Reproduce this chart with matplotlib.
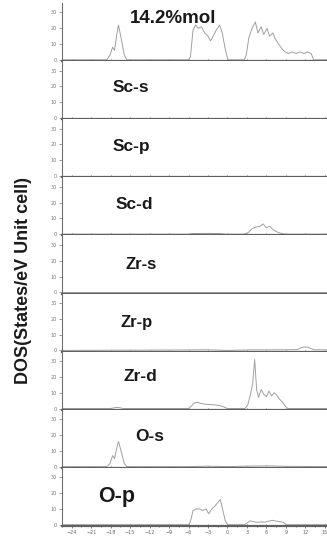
import matplotlib
matplotlib.use("Agg")
import matplotlib.pyplot as plt
import numpy as np

# --- partial DOS data, energies in eV ---
panel_names = ["14.2%mol", "Sc-s", "Sc-p", "Sc-d", "Zr-s", "Zr-p", "Zr-d", "O-s", "O-p"]

tot_E = [-25.5, -18.6, -18.1, -17.7, -17.4, -17.1, -16.8, -16.4, -15.9, -15.5, -6.0, -5.7, -5.3, -4.9,
         -4.5, -4.0, -3.5, -3.0, -2.6, -2.2, -1.7, -1.2, -0.8, -0.3, 0.1, 2.6, 2.9, 3.3, 3.8, 4.3,
         4.7, 5.2, 5.6, 6.1, 6.5, 7.0, 7.4, 7.9, 8.4, 8.9, 9.4, 10.0, 10.6, 11.2, 11.8, 12.4, 12.9,
         13.3, 15.5]
tot_D = [0, 0, 3, 8, 6, 15, 22, 14, 3, 0, 0, 2, 19, 22, 20, 21, 17, 15, 12, 15, 19, 22, 17, 6, 0, 0,
         3, 14, 20, 24, 17, 21, 16, 20, 15, 17, 13, 10, 7, 5, 4, 5, 4, 5, 4, 5, 4, 0, 0]

scs_E = [-25.5, 15.5]
scs_D = [0, 0]

scp_E = [-25.5, 15.5]
scp_D = [0, 0]

scd_E = [-25.5, -6.0, -5.5, -3.0, -1.0, -0.3, 2.5, 3.2, 3.8, 4.4, 5.0, 5.5, 6.0, 6.5, 7.0, 7.6, 8.2,
         9.0, 15.5]
scd_D = [0, 0, 0.4, 0.5, 0.4, 0, 0, 1.0, 3.5, 4.5, 5.0, 6.5, 4.0, 5.0, 3.0, 1.5, 0.6, 0, 0]

zrs_E = [-25.5, 15.5]
zrs_D = [0, 0]

zrp_E = [-25.5, -5.5, -3.0, 0.0, 3.0, 9.0, 10.8, 11.3, 11.8, 12.4, 12.9, 13.3, 15.5]
zrp_D = [0, 0.3, 0.4, 0, 0.3, 0.4, 0.5, 1.6, 2.2, 2.0, 1.2, 0.4, 0.3]

zrd_E = [-25.5, -18.0, -17.0, -16.0, -6.0, -5.6, -5.1, -4.6, -4.1, -3.5, -2.8, -2.0, -1.3, -0.7, 0.0,
         2.7, 3.1, 3.5, 3.9, 4.2, 4.5, 4.8, 5.2, 5.6, 6.0, 6.4, 6.8, 7.2, 7.6, 8.0, 8.5, 8.9, 9.3,
         15.5]
zrd_D = [0, 0, 0.8, 0, 0, 1.5, 3.5, 4.0, 3.2, 2.8, 2.5, 2.3, 2.0, 1.2, 0, 0, 2.0, 8.0, 16.0, 31.0,
         12.0, 7.0, 12.0, 9.0, 7.5, 11.0, 8.0, 10.0, 8.5, 6.0, 4.0, 1.5, 0, 0]

os_E = [-25.5, -18.6, -18.1, -17.7, -17.4, -17.1, -16.8, -16.4, -15.9, -15.5, -6.0, -3.0, 0.0,
        3.0, 6.0, 9.0, 15.5]
os_D = [0, 0, 2, 7, 5, 11, 16, 10, 2, 0, 0, 0.3, 0, 0.3, 0.5, 0.2, 0]

op_E = [-25.5, -6.0, -5.7, -5.3, -4.8, -4.3, -3.8, -3.3, -2.9, -2.4, -1.9, -1.5, -1.1, -0.7, -0.3,
        0.1, 2.6, 3.0, 3.5, 4.0, 4.6, 5.2, 5.8, 6.3, 6.9, 7.4, 8.0, 8.6, 9.1, 15.5]
op_D = [0, 0, 2, 9, 10, 10, 9, 10, 7, 10, 12, 14, 16, 9, 2, 0, 0, 1.0, 2.5, 2.0, 1.5, 1.8, 1.6,
        2.2, 2.8, 2.4, 2.0, 1.5, 0, 0]

energies = [tot_E, scs_E, scp_E, scd_E, zrs_E, zrp_E, zrd_E, os_E, op_E]
dos = [tot_D, scs_D, scp_D, scd_D, zrs_D, zrp_D, zrd_D, os_D, op_D]

x_ticks = [-24, -21, -18, -15, -12, -9, -6, -3, 0, 3, 6, 9, 12, 15]
y_ticks = [0, 10, 20, 30]

# label placement inside each panel (data coords) and font size
label_pos = [(-15.0, 26), (-17.7, 19), (-17.7, 18.5), (-17.2, 19), (-15.7, 17.7),
             (-16.5, 17.7), (-16.0, 20), (-14.2, 19), (-20.0, 17.7)]
label_size = [13.5, 12.5, 12.5, 12.5, 12, 12, 12.5, 12.5, 15.5]

# --- figure ---
fig = plt.figure(figsize=(3.27, 5.46), dpi=100)
left, right = 62 / 327, 1.003
top, bottom = 1 - 3 / 546, 1 - 526 / 546
n = len(panel_names)
h = (top - bottom) / n

axes = []
for i in range(n):
    ax = fig.add_axes([left, top - (i + 1) * h, right - left, h])
    axes.append(ax)
    ax.plot(energies[i], dos[i], color="#a0a0a0", lw=0.7)
    ax.set_xlim(-25.5, 15.5)
    ax.set_ylim(-0.8, 36)
    ax.set_xticks(x_ticks)
    ax.set_xticks(np.arange(-25.5, 15.6, 1.5), minor=True)
    ax.set_yticks(y_ticks)
    ax.tick_params(axis="y", direction="out", length=2.5, width=0.5, colors="#777777",
                   labelsize=3.5, pad=1)
    ax.tick_params(axis="x", which="both", direction="inout", length=3, width=0.6,
                   colors="#666666", labelsize=3.5, pad=1.5)
    ax.tick_params(axis="x", which="minor", length=1.8)
    ax.tick_params(axis="x", top=False)
    for side in ["top", "right"]:
        ax.spines[side].set_visible(False)
    ax.spines["bottom"].set_linewidth(1.6)
    ax.spines["bottom"].set_color("#606060")
    ax.spines["left"].set_linewidth(0.8)
    ax.spines["left"].set_color("#707070")
    if i < n - 1:
        ax.tick_params(axis="x", labelbottom=False)
    lx, ly = label_pos[i]
    ax.text(lx, ly, panel_names[i], fontsize=label_size[i], fontweight="bold",
            family="Liberation Sans", color="#1a1a1a", ha="left", va="center")

fig.text(0.073, 0.487, "DOS(States/eV Unit cell)", rotation=90, fontsize=13,
         fontweight="bold", family="Liberation Sans", color="#1a1a1a",
         ha="center", va="center")

fig.savefig("out.png", dpi=100)
